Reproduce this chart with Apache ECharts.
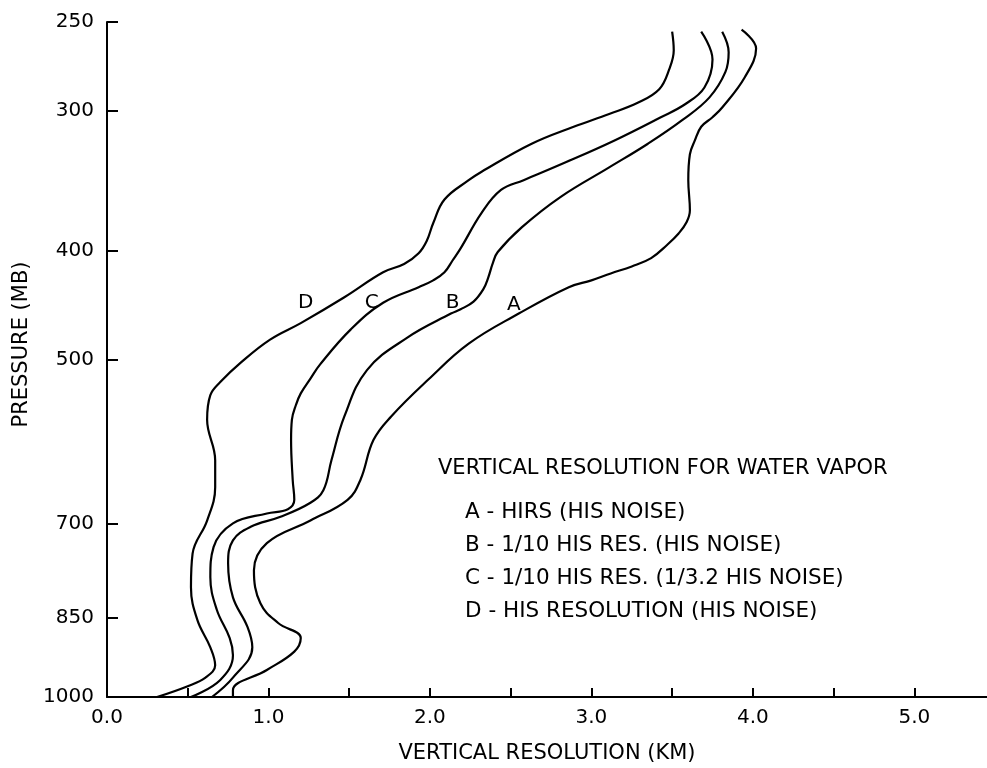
<!DOCTYPE html>
<html><head><meta charset="utf-8">
<script src="https://cdn.jsdelivr.net/npm/echarts@6/dist/echarts.min.js"></script>
<style>html,body{margin:0;padding:0;background:#fff}#c{width:987px;height:768px}</style>
</head><body><div id="c"></div>
<script>
// ---- data ----
const pressureTicks = [250, 300, 400, 500, 700, 850, 1000];
const kmTicks = [0, 0.5, 1, 1.5, 2, 2.5, 3, 3.5, 4, 4.5, 5];
const kmLabels = [0, 1, 2, 3, 4, 5];

const curveA_km = [3.93,4.02,3.95,3.81,3.75,3.68,3.64,3.61,3.60,3.61,3.59,3.54,3.47,3.37,3.25,3.12,3.00,2.86,2.55,2.24,1.99,1.76,1.65,1.57,1.49,1.26,0.99,0.91,0.95,1.06,1.20,1.16,0.99,0.78,0.78];
const curveA_p  = [254,264,280,298,304,310,319,328,346,368,377,386,395,406,413,419,425,431,455,484,521,562,590,640,667,696,729,771,825,859,886,911,946,986,1000];

const curveB_km = [3.81,3.85,3.83,3.73,3.56,3.35,3.11,2.81,2.57,2.42,2.39,2.36,2.33,2.27,2.19,2.13,1.86,1.61,1.47,1.39,1.34,1.26,1.07,0.89,0.78,0.75,0.78,0.87,0.90,0.78,0.65];
const curveB_p  = [255,266,277,292,306,321,337,358,381,401,410,423,433,444,451,455,478,511,562,615,654,671,691,705,725,760,815,866,903,961,1000];

const curveC_km = [3.68,3.75,3.70,3.58,3.43,3.14,2.83,2.58,2.44,2.32,2.19,2.14,2.09,2.02,1.93,1.71,1.51,1.32,1.26,1.20,1.17,1.145,1.14,1.15,1.16,1.12,0.99,0.78,0.66,0.64,0.68,0.76,0.78,0.70,0.52];
const curveC_p  = [255,270,286,296,304,319,334,346,353,370,398,408,418,425,431,445,470,505,520,536,549,566,590,640,667,680,686,700,735,782,836,886,918,966,1000];

const curveD_km = [3.50,3.51,3.48,3.42,3.29,3.11,2.89,2.63,2.32,2.24,2.09,2.02,1.98,1.93,1.84,1.71,1.47,1.20,1.01,0.83,0.70,0.64,0.62,0.67,0.67,0.62,0.53,0.52,0.56,0.64,0.67,0.61,0.50,0.31];
const curveD_p  = [255,265,276,287,295,302,310,321,340,346,360,378,392,402,411,418,440,464,480,503,524,538,566,615,650,696,745,798,854,903,937,961,978,1000];

const curveNames = ['A', 'B', 'C', 'D'];
const curveLabelKm = [2.52, 2.14, 1.64, 1.23];
const curveLabelP = [447, 445, 445, 445];

const legendTitle = 'VERTICAL RESOLUTION FOR WATER VAPOR';
const legendLines = [
  'A - HIRS (HIS NOISE)',
  'B - 1/10 HIS RES. (HIS NOISE)',
  'C - 1/10 HIS RES. (1/3.2 HIS NOISE)',
  'D - HIS RESOLUTION (HIS NOISE)'
];

// ---- chart ----
const FF = 'DejaVu Sans';
const pairs = (km, p) => km.map((v, i) => [v, p[i]]);
const curves = [
  pairs(curveA_km, curveA_p),
  pairs(curveB_km, curveB_p),
  pairs(curveC_km, curveC_p),
  pairs(curveD_km, curveD_p)
];

const series = curves.map((d, i) => ({
  type: 'line', name: curveNames[i], data: d, smooth: 0.4, symbol: 'none',
  lineStyle: { color: '#000', width: 2.2 }, silent: true
}));
series.push({
  type: 'scatter', symbolSize: 1, silent: true,
  itemStyle: { color: 'rgba(0,0,0,0)', opacity: 1 },
  data: curveNames.map((n, i) => [curveLabelKm[i], curveLabelP[i], n]),
  label: { show: true, position: 'inside', formatter: p => p.data[2], color: '#000', opacity: 1, fontFamily: FF, fontSize: 20 }
});

const graphics = [{
  type: 'text', x: 438, y: 469,
  style: { text: legendTitle, fill: '#000', font: '21px "DejaVu Sans"', verticalAlign: 'middle', align: 'left' }
}];
legendLines.forEach((t, i) => {
  graphics.push({
    type: 'text', x: 465, y: 512 + i * 33.3,
    style: { text: t, fill: '#000', font: '21.5px "DejaVu Sans"', verticalAlign: 'middle', align: 'left' }
  });
});

const chart = echarts.init(document.getElementById('c'));
chart.setOption({
  animation: false,
  backgroundColor: '#fff',
  grid: { left: 107, right: 0, top: 22, bottom: 71, containLabel: false, outerBoundsMode: 'none' },
  xAxis: {
    type: 'value', min: 0, max: 5.45,
    name: 'VERTICAL RESOLUTION (KM)', nameLocation: 'middle', nameGap: 46,
    nameTextStyle: { fontFamily: FF, fontSize: 21, color: '#000' },
    axisLine: { onZero: false, lineStyle: { color: '#000', width: 2 } },
    axisTick: { inside: true, length: 9, customValues: kmTicks, lineStyle: { color: '#000', width: 2 } },
    axisLabel: { customValues: kmLabels, formatter: v => Number(v).toFixed(1), margin: 11, fontFamily: FF, fontSize: 20, color: '#000' },
    splitLine: { show: false }
  },
  yAxis: {
    type: 'log', logBase: 10, min: 250, max: 1000, inverse: true,
    name: 'PRESSURE (MB)', nameLocation: 'middle', nameGap: 74,
    nameTextStyle: { fontFamily: FF, fontSize: 21, color: '#000', padding: [0, 0, 0, 30] },
    axisLine: { onZero: false, lineStyle: { color: '#000', width: 2 } },
    axisTick: { inside: true, length: 11, customValues: pressureTicks, lineStyle: { color: '#000', width: 2 } },
    axisLabel: { customValues: pressureTicks, formatter: v => String(Math.round(v)), margin: 13, fontFamily: FF, fontSize: 20, color: '#000' },
    splitLine: { show: false }, minorTick: { show: false }
  },
  series: series,
  graphic: graphics
});
</script></body></html>
